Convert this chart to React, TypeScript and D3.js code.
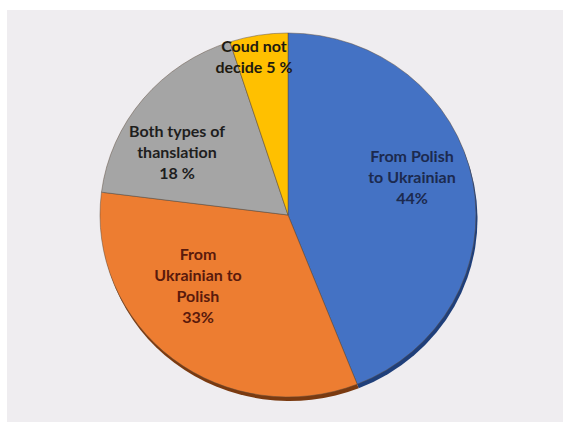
import React from "react";
import * as d3 from "d3";

const categories = ["From Polish to Ukrainian", "From Ukrainian to Polish", "Both types of thanslation", "Coud not decide"];
const values = [44, 33, 18, 5];
const labelLines = [
  ["From Polish", "to Ukrainian", "44%"],
  ["From", "Ukrainian to", "Polish", "33%"],
  ["Both types of", "thanslation", "18 %"],
  ["Coud not", "decide 5 %"],
];
const colors = ["#4472c4", "#ed7d31", "#a5a5a5", "#ffc000"];
const shadowColors = ["#1f3f7a", "#7a3a10", "#666666", "#8a6a00"];
const textColors = ["#1c2a4f", "#5a1a0c", "#1e1e1e", "#1e1a10"];
// label anchor positions (centre x, first baseline y) in pixels
const labelPos = [
  [412, 162],
  [198, 260],
  [177, 137],
  [254, 52],
];

const W = 563, H = 422;
const cx = 288, cy = 215, rx = 188, ry = 182;

export default function App() {
  const pie = d3.pie<number>().sort(null).value((d) => d)(values);
  const arc = d3.arc<d3.PieArcDatum<number>>().innerRadius(0).outerRadius(rx);
  const sy = ry / rx;
  return (
    <svg width={W} height={H} style={{ position: "absolute", left: 0, top: 0 }}>
      <rect x={0} y={0} width={W} height={H} fill="#ffffff" />
      <rect x={7} y={10} width={W - 7} height={H - 10} fill="#efedf0" />
      <g transform={`translate(${cx + 1.5},${cy + 4}) scale(1,${sy})`}>
        {pie.map((p, i) => (
          <path key={"s" + i} d={arc(p) || ""} fill={shadowColors[i]} />
        ))}
      </g>
      <g transform={`translate(${cx},${cy}) scale(1,${sy})`}>
        {pie.map((p, i) => (
          <path
            key={i}
            d={arc(p) || ""}
            fill={colors[i]}
            stroke="#5a4a3a"
            strokeWidth={0.8}
            strokeOpacity={0.6}
            vectorEffect="non-scaling-stroke"
          />
        ))}
      </g>
      {labelLines.map((lines, i) => (
        <text
          key={"t" + i}
          x={labelPos[i][0]}
          y={labelPos[i][1]}
          textAnchor="middle"
          fontFamily="Lato, 'Open Sans', sans-serif"
          fontWeight={700}
          fontSize={16}
          fill={textColors[i]}
        >
          {lines.map((l, j) => (
            <tspan key={j} x={labelPos[i][0]} dy={j === 0 ? 0 : 21}>
              {l}
            </tspan>
          ))}
        </text>
      ))}
    </svg>
  );
}
